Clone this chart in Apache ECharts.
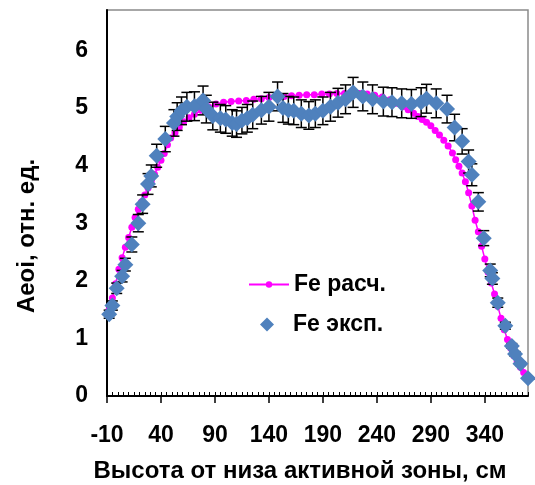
<!DOCTYPE html>
<html>
<head>
<meta charset="utf-8">
<script src="https://cdn.jsdelivr.net/npm/echarts@6/dist/echarts.min.js"></script>
<style>html,body{margin:0;padding:0;background:#fff}#c{width:535px;height:485px}</style>
</head>
<body>
<div id="c"></div>
<script>
// ---- Data ----
var calcName = 'Fe расч.';
var expName = 'Fe эксп.';
var xTitle = 'Высота от низа активной зоны, см';
var yTitle = 'Aeoi, отн. ед.';

var calcX = [-8,-5,-2,1,4,7,10,13,16,19,22,25,28,31,34,37,40,43,46,49,53,57,61,66,71,77,84,91,98,105,112,119,126,133,140,147,154,161,168,175,182,189,196,203,210,217,224,231,238,245,252,258,264,269,274,278,282,286,290,294,298,302,306,310,313,316,319,322,325,328,331,334,337,340,343,346,349,352,355,358,361,364,367,370,373,376,379];
var calcY = [1.50,1.70,1.95,2.20,2.40,2.58,2.75,2.93,3.10,3.24,3.37,3.49,3.61,3.73,3.85,3.97,4.09,4.21,4.36,4.48,4.57,4.67,4.76,4.83,4.89,4.96,5.02,5.07,5.10,5.11,5.12,5.13,5.15,5.16,5.18,5.19,5.20,5.21,5.22,5.23,5.23,5.24,5.24,5.25,5.25,5.25,5.25,5.24,5.22,5.19,5.14,5.08,5.02,4.97,4.91,4.85,4.80,4.75,4.69,4.61,4.53,4.44,4.34,4.22,4.10,3.99,3.87,3.72,3.53,3.30,3.05,2.85,2.60,2.38,2.15,1.96,1.77,1.56,1.35,1.15,0.98,0.83,0.70,0.60,0.50,0.41,0.32];

var expX = [-8,-5,-1,4,7,13,19,23,28,31,36,44,52,55,59,64,71,79,82,88,95,100,106,110,115,120,125,133,140,148,153,158,163,170,177,183,190,197,204,211,218,227,236,246,254,263,272,281,286,295,305,312,319,325,328,334,339,345,347,352,359,365,368,373,380];
var expY = [1.42,1.57,1.87,2.08,2.28,2.63,3.00,3.33,3.68,3.82,4.17,4.46,4.74,4.85,4.95,5.02,5.03,5.13,4.98,4.86,4.82,4.80,4.74,4.72,4.78,4.82,4.88,4.96,5.02,5.20,5.00,4.96,4.95,4.90,4.87,4.90,4.95,5.02,5.09,5.15,5.27,5.20,5.15,5.11,5.10,5.08,5.07,5.10,5.16,5.08,4.98,4.66,4.42,4.07,3.84,3.37,2.74,2.18,2.04,1.62,1.22,0.87,0.73,0.56,0.31];
var expErr = [0.07,0.08,0.09,0.10,0.11,0.13,0.15,0.16,0.18,0.19,0.20,0.22,0.23,0.24,0.24,0.25,0.25,0.25,0.24,0.24,0.24,0.24,0.23,0.23,0.23,0.24,0.24,0.24,0.25,0.25,0.25,0.24,0.24,0.24,0.24,0.24,0.24,0.25,0.25,0.25,0.26,0.25,0.25,0.25,0.25,0.25,0.25,0.25,0.25,0.25,0.24,0.23,0.22,0.20,0.19,0.16,0.13,0.11,0.10,0.08,0.06,0.04,0.04,0.03,0.02];

var xMin = -10, xMax = 380, xStep = 50, xMinorStep = 5;
var yMin = 0, yMax = 6.7, yStep = 1;

// ---- Build ----
var FONT = '"Liberation Sans", Arial, sans-serif';
var calcData = calcX.map(function (x, i) { return [x, calcY[i]]; });
var expData = expX.map(function (x, i) { return [x, expY[i]]; });
var errData = expX.map(function (x, i) { return [x, expY[i], expErr[i]]; });
var legendText = { color: '#000', fontSize: 23, fontWeight: 'bold', fontFamily: FONT };

var chart = echarts.init(document.getElementById('c'), null, { renderer: 'canvas' });
chart.setOption({
  animation: false,
  backgroundColor: '#fff',
  textStyle: { fontFamily: FONT },
  grid: { left: 107, top: 10, right: 7, bottom: 89, show: true, borderColor: '#8a8a8a', borderWidth: 1.5, backgroundColor: 'transparent' },
  xAxis: [
    {
      type: 'value', position: 'bottom', min: xMin, max: xMax, interval: xStep,
      axisLine: { onZero: false, lineStyle: { color: '#000', width: 2 } },
      axisTick: { show: true, inside: false, length: 7, lineStyle: { color: '#000', width: 1.5 } },
      axisLabel: { show: true, margin: 28, color: '#000', fontSize: 23, fontWeight: 'bold', fontFamily: FONT, showMaxLabel: false },
      splitLine: { show: false }
    },
    {
      type: 'value', position: 'bottom', min: xMin, max: xMax, interval: xMinorStep,
      axisLine: { show: false, onZero: false },
      axisTick: { show: true, inside: true, length: 4, lineStyle: { color: '#000', width: 1 } },
      axisLabel: { show: false },
      splitLine: { show: false }
    }
  ],
  yAxis: {
    type: 'value', min: yMin, max: yMax, interval: yStep,
    axisLine: { show: true, onZero: false, lineStyle: { color: '#000', width: 2 } },
    axisTick: { show: false },
    axisLabel: { margin: 19, color: '#000', fontSize: 23, fontWeight: 'bold', fontFamily: FONT, showMaxLabel: false },
    splitLine: { show: false }
  },
  legend: [
    {
      data: [calcName], left: 243, top: 268,
      itemWidth: 40, itemHeight: 8,
      textStyle: legendText
    },
    {
      data: [expName], left: 255, top: 308,
      itemWidth: 14, itemHeight: 14,
      textStyle: Object.assign({ padding: [0, 0, 0, 14] }, legendText)
    }
  ],
  graphic: [
    { type: 'text', x: 27, y: 236, rotation: Math.PI / 2,
      style: { text: yTitle, fill: '#000', font: 'bold 24px ' + FONT, align: 'center', verticalAlign: 'middle' } },
    { type: 'text', x: 300, y: 471,
      style: { text: xTitle, fill: '#000', font: 'bold 24px ' + FONT, align: 'center', verticalAlign: 'middle' } }
  ],
  series: [
    {
      name: calcName, type: 'line', data: calcData, xAxisIndex: 0,
      symbol: 'circle', symbolSize: 7, showSymbol: true,
      itemStyle: { color: '#FF00FF' },
      lineStyle: { color: '#FF00FF', width: 1.5 },
      z: 2
    },
    {
      name: 'err', type: 'custom', data: errData, xAxisIndex: 0,
      encode: { x: 0, y: 1 },
      renderItem: function (params, api) {
        var x = api.value(0), y = api.value(1), e = api.value(2);
        var hi = api.coord([x, y + e]);
        var lo = api.coord([x, y - e]);
        var w = 5.5;
        var st = { stroke: '#000', lineWidth: 1.5 };
        return { type: 'group', children: [
          { type: 'line', shape: { x1: hi[0], y1: hi[1], x2: lo[0], y2: lo[1] }, style: st },
          { type: 'line', shape: { x1: hi[0] - w, y1: hi[1], x2: hi[0] + w, y2: hi[1] }, style: st },
          { type: 'line', shape: { x1: lo[0] - w, y1: lo[1], x2: lo[0] + w, y2: lo[1] }, style: st }
        ] };
      },
      z: 3
    },
    {
      name: expName, type: 'scatter', data: expData, xAxisIndex: 0,
      symbol: 'diamond', symbolSize: 16,
      itemStyle: { color: '#4F81BD', opacity: 1 },
      z: 4
    }
  ]
});
</script>
</body>
</html>
